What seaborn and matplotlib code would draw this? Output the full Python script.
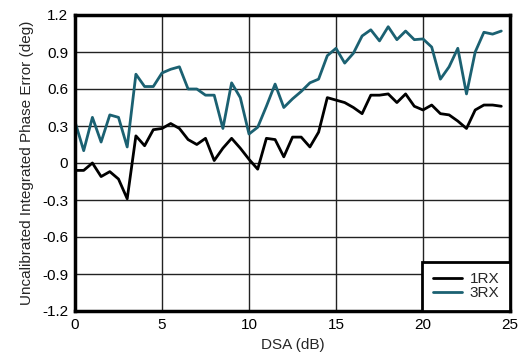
import numpy as np
import pandas as pd
import matplotlib
matplotlib.use("Agg")
import matplotlib.pyplot as plt
import seaborn as sns

dsa = [i * 0.5 for i in range(50)]
rx1 = [-0.06, -0.06, 0.00, -0.11, -0.07, -0.13, -0.29, 0.22, 0.14, 0.27,
       0.28, 0.32, 0.28, 0.19, 0.15, 0.20, 0.02, 0.12, 0.20, 0.12,
       0.03, -0.05, 0.20, 0.19, 0.05, 0.21, 0.21, 0.13, 0.25, 0.53,
       0.51, 0.49, 0.45, 0.40, 0.55, 0.55, 0.56, 0.49, 0.56, 0.46,
       0.43, 0.47, 0.40, 0.39, 0.34, 0.28, 0.43, 0.47, 0.47, 0.46]
rx3 = [0.335, 0.10, 0.37, 0.17, 0.39, 0.37, 0.13, 0.72, 0.62, 0.62,
       0.73, 0.76, 0.78, 0.60, 0.60, 0.55, 0.55, 0.28, 0.65, 0.53,
       0.235, 0.29, 0.46, 0.64, 0.45, 0.52, 0.58, 0.65, 0.68, 0.87,
       0.93, 0.81, 0.89, 1.03, 1.08, 0.99, 1.105, 1.00, 1.07, 1.00,
       1.006, 0.94, 0.68, 0.78, 0.93, 0.56, 0.90, 1.06, 1.045, 1.07]
xticks = [0, 5, 10, 15, 20, 25]
yticks = [-1.2, -0.9, -0.6, -0.3, 0, 0.3, 0.6, 0.9, 1.2]
ytick_labels = ["-1.2", "-0.9", "-0.6", "-0.3", "0", "0.3", "0.6", "0.9", "1.2"]

df = pd.DataFrame({"DSA": dsa * 2, "val": rx1 + rx3,
                   "series": ["1RX"] * len(dsa) + ["3RX"] * len(dsa)})

sns.set_style("white")
plt.rcParams["font.family"] = ["Liberation Sans", "DejaVu Sans"]

fig = plt.figure(figsize=(5.21, 3.54), dpi=100)
ax = fig.add_axes([75 / 521, 1 - 311 / 354, 435 / 521, 296 / 354])

sns.lineplot(data=df, x="DSA", y="val", hue="series",
             palette={"1RX": "#000000", "3RX": "#1B6172"},
             linewidth=2, ax=ax)

ax.set_xlim(0, 25)
ax.set_ylim(-1.2, 1.2)
ax.set_xticks(xticks)
ax.set_yticks(yticks)
ax.set_yticklabels(ytick_labels)
ax.grid(True, color="#222222", linewidth=1)
ax.set_axisbelow(True)
for s in ax.spines.values():
    s.set_linewidth(2.5)
    s.set_color("black")
ax.tick_params(axis="both", labelsize=11, length=0, pad=5, colors="black")
ax.set_xlabel("DSA (dB)", fontsize=11, labelpad=4)
ax.set_ylabel("Uncalibrated Integrated Phase Error (deg)", fontsize=11, labelpad=6)

leg = ax.legend(loc="lower right", fontsize=11, frameon=True, fancybox=False,
                borderaxespad=0, handlelength=1.9, borderpad=0.7,
                labelspacing=0.0, handletextpad=0.5)
leg.get_frame().set_edgecolor("black")
leg.get_frame().set_linewidth(2)
leg.get_frame().set_alpha(1)
leg.set_title(None)

fig.savefig("out.png", dpi=100)
